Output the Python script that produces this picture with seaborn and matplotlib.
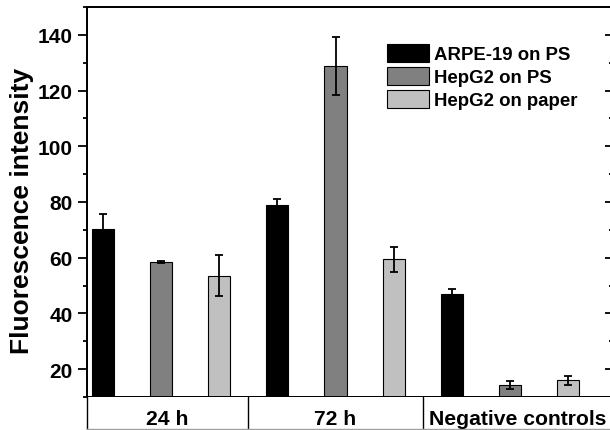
import matplotlib
matplotlib.use("Agg")
import matplotlib.pyplot as plt
from matplotlib.ticker import MultipleLocator
import pandas as pd
import seaborn as sns

# data
groups = ["24 h", "72 h", "Negative controls"]
series = ["ARPE-19 on PS", "HepG2 on PS", "HepG2 on paper"]
arpe_ps_mean = [70.2, 79.1, 47.0]
arpe_ps_err = [5.5, 1.9, 1.8]
hepg2_ps_mean = [58.4, 128.8, 14.2]
hepg2_ps_err = [0.4, 10.4, 1.4]
hepg2_paper_mean = [53.6, 59.4, 16.0]
hepg2_paper_err = [7.3, 4.4, 1.7]
colors = ["#000000", "#808080", "#c0c0c0"]

means = [arpe_ps_mean, hepg2_ps_mean, hepg2_paper_mean]
errs = [arpe_ps_err, hepg2_ps_err, hepg2_paper_err]
rows = []
for gi, g in enumerate(groups):
    for si, s in enumerate(series):
        rows.append({"slot": g + " | " + s, "group": g, "series": s,
                     "value": means[si][gi], "err": errs[si][gi]})
df = pd.DataFrame(rows)
slots = list(df["slot"])

sns.set_style("ticks")
plt.rcParams["font.family"] = ["Liberation Sans", "DejaVu Sans"]
plt.rcParams["font.weight"] = "bold"
plt.rcParams["axes.linewidth"] = 1.3
for k in ["text.color", "axes.labelcolor", "axes.edgecolor", "xtick.color", "ytick.color"]:
    plt.rcParams[k] = "black"

fig = plt.figure(figsize=(6.1, 4.31), dpi=100)
ax = fig.add_axes([87 / 610, 1 - 398 / 431, 525 / 610, 390 / 431])

sns.barplot(data=df, x="slot", y="value", hue="series", order=slots,
            hue_order=series, palette=dict(zip(series, colors)), dodge=False,
            width=0.38, edgecolor="black", linewidth=0.8, errorbar=None, ax=ax)

# error bars from the drawn bars
bars = [b for cont in list(ax.containers) for b in cont if b is not None]
for bar in bars:
    xc = bar.get_x() + bar.get_width() / 2
    if bar.get_height() != bar.get_height():
        continue
    row = df.iloc[int(round(xc))]
    ax.errorbar(xc, bar.get_height(), yerr=row["err"], fmt="none",
                ecolor="black", elinewidth=1.3, capsize=3, capthick=1.3)

ax.set_xlim(-0.275, 8.756)
ax.set_ylim(10, 150)
ax.yaxis.set_major_locator(MultipleLocator(20))
ax.yaxis.set_minor_locator(MultipleLocator(10))
ax.set_yticks([20, 40, 60, 80, 100, 120, 140])
ax.set_xticks([])
ax.set_xlabel("")
ax.set_ylabel("Fluorescence intensity", fontsize=19, fontweight="bold")
ax.yaxis.set_label_coords(-0.1, 0.48)
ax.tick_params(axis="y", which="major", length=6.5, width=1.3, labelsize=15, pad=4)
ax.tick_params(axis="y", which="minor", length=3, width=1.3)

ax2 = ax.twinx()
ax2.set_ylim(ax.get_ylim())
ax2.yaxis.set_major_locator(MultipleLocator(20))
ax2.yaxis.set_minor_locator(MultipleLocator(10))
ax2.tick_params(axis="y", which="both", direction="in", labelright=False, width=1.3)
ax2.tick_params(axis="y", which="major", length=5)
ax2.tick_params(axis="y", which="minor", length=2.5)

ax.legend(loc="upper left", bbox_to_anchor=(0.571, 0.905), frameon=False,
          borderpad=0, borderaxespad=0, handlelength=2.25, handleheight=1.1,
          labelspacing=0.2, handletextpad=0.3, prop={"size": 13.4, "weight": "bold"})

# group strip under the axis
bx = fig.add_axes([87 / 610, 1 - 430 / 431, 525 / 610, 32 / 431])
bx.set_xlim(ax.get_xlim())
bx.set_ylim(0, 1)
bx.set_xticks([])
bx.set_yticks([])
for sp in ["top", "right"]:
    bx.spines[sp].set_visible(False)
bx.spines["left"].set_linewidth(1)
bx.spines["bottom"].set_linewidth(1)
bx.spines["bottom"].set_color("#a0a0a0")
for xd in [2.5, 5.5]:
    bx.axvline(xd, color="black", lw=1)
edges = [-0.275, 2.5, 5.5, 8.756]
for i, g in enumerate(groups):
    bx.text((edges[i] + edges[i + 1]) / 2, 0.32, g, ha="center", va="center",
            fontsize=15.2, fontweight="bold")

fig.savefig("out.png", dpi=100)
